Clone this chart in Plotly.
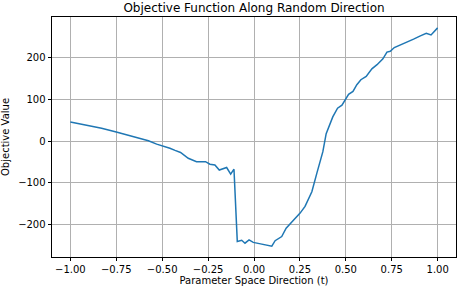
import plotly.graph_objects as go

t_vals = [-1.0, -0.92, -0.83, -0.75, -0.667, -0.62, -0.575, -0.53, -0.486, -0.458, -0.43,
          -0.40, -0.358, -0.313, -0.264, -0.24, -0.213, -0.189, -0.149, -0.127, -0.109,
          -0.091, -0.067, -0.049, -0.027, -0.004, 0.029, 0.042, 0.06, 0.097, 0.115,
          0.151, 0.175, 0.206, 0.251, 0.278, 0.315, 0.342, 0.375, 0.393, 0.429, 0.455,
          0.479, 0.515, 0.539, 0.56, 0.582, 0.611, 0.642, 0.67, 0.702, 0.724, 0.742,
          0.764, 0.797, 0.833, 0.869, 0.906, 0.938, 0.964, 1.0]
f_vals = [46, 39, 31, 22, 12, 5, 1, -7, -12, -17, -22,
          -27, -41, -49, -49, -55, -57, -69, -63, -79, -67,
          -240, -237, -244, -236, -242, -245, -246, -249, -251, -238,
          -228, -208, -194, -172, -156, -121, -77, -25, 18, 58, 79,
          86, 112, 119, 135, 147, 155, 173, 183, 197, 213, 215,
          224, 230, 236, 244, 252, 258, 254, 271]

x_ticks = [-1.0, -0.75, -0.5, -0.25, 0.0, 0.25, 0.5, 0.75, 1.0]
x_tick_text = ["−1.00", "−0.75", "−0.50", "−0.25", "0.00", "0.25", "0.50", "0.75", "1.00"]
y_ticks = [-200, -100, 0, 100, 200]
y_tick_text = ["−200", "−100", "0", "100", "200"]

fig = go.Figure(go.Scatter(x=t_vals, y=f_vals, mode="lines",
                           line=dict(color="#1f77b4", width=1.5)))

font = "DejaVu Sans"
axis_common = dict(showline=True, linecolor="black", linewidth=0.8, mirror=True,
                   showgrid=True, gridcolor="#b0b0b0", gridwidth=0.8,
                   ticks="outside", ticklen=3.5, tickwidth=0.8, tickcolor="black",
                   zeroline=False, automargin=False,
                   tickfont=dict(family=font, size=10, color="black"))

fig.update_layout(
    width=457, height=291,
    margin=dict(l=52, r=1, t=17, b=34),
    paper_bgcolor="white", plot_bgcolor="white",
    showlegend=False,
    title=dict(text="Objective Function Along Random Direction", x=0.5, xref="paper",
               y=0.974, yref="container", yanchor="middle", automargin=False,
               font=dict(family=font, size=12, color="black")),
    xaxis=dict(range=[-1.1, 1.1], tickvals=x_ticks, ticktext=x_tick_text,
               title=dict(text="Parameter Space Direction (t)", standoff=2,
                          font=dict(family=font, size=10, color="black")),
               **axis_common),
    yaxis=dict(range=[-277, 297], tickvals=y_ticks, ticktext=y_tick_text,
               title=dict(text="Objective Value", standoff=6,
                          font=dict(family=font, size=10, color="black")),
               **axis_common),
)

fig.write_html("out.html", config={"displayModeBar": False},
               post_script="document.body.style.margin='0';document.body.style.padding='0';document.body.style.overflow='hidden';")
